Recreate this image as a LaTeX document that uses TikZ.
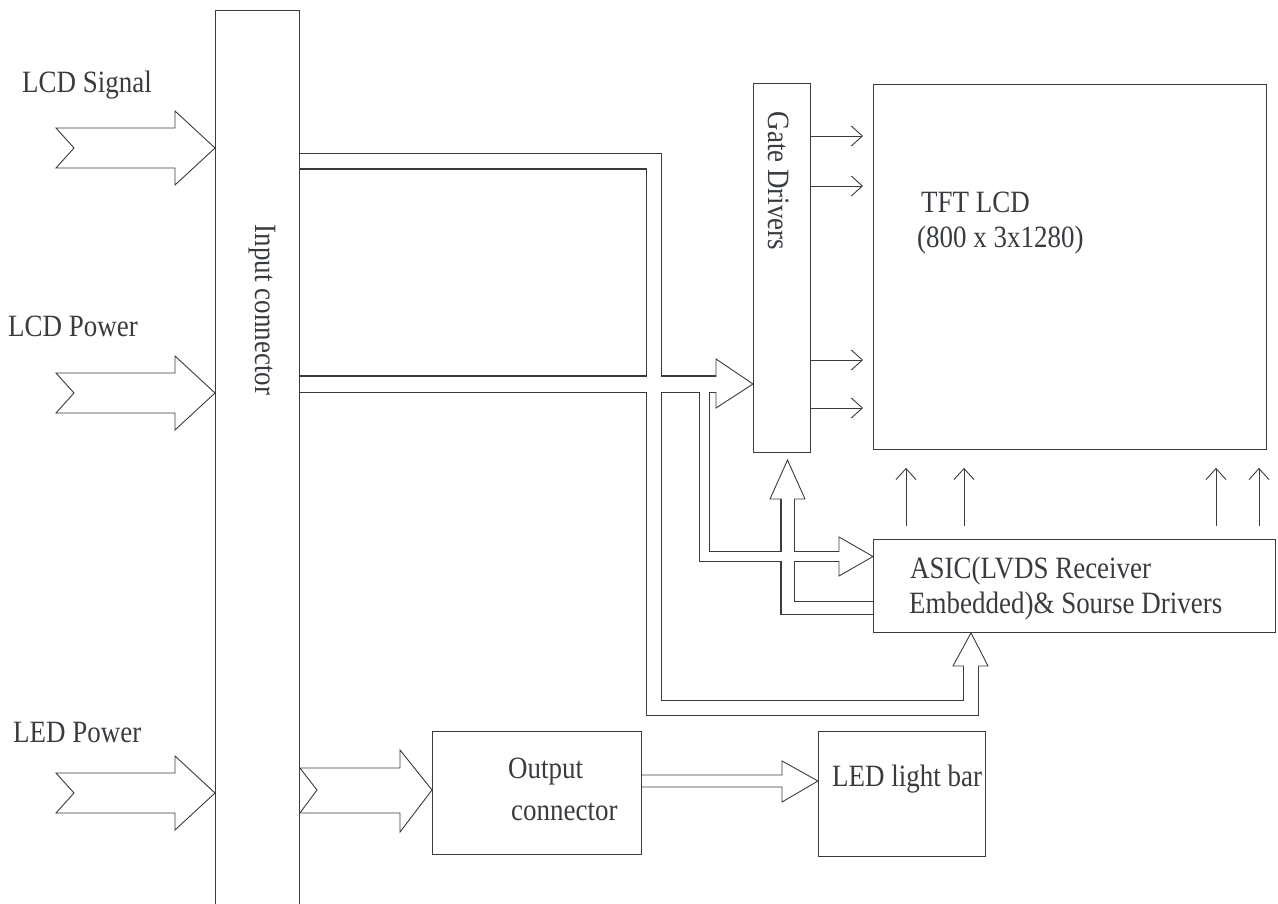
\documentclass[tikz,border=0pt]{standalone}
\usepackage{fontspec}
\setmainfont[FakeStretch=0.87]{Liberation Serif}
\usetikzlibrary{arrows.meta}
\definecolor{dline}{HTML}{383C40}
\pgfdeclarelayer{background}
\pgfsetlayers{background,main}

\begin{document}
\begin{tikzpicture}[x=1pt,y=-1pt,
  box/.style={draw=dline,line width=0.9pt,anchor=north west,inner sep=0pt},
  lbl/.style={text=dline,inner sep=0pt,font=\fontsize{31}{35}\selectfont},
  thinarr/.style={draw=dline,line width=0.9pt,-{Straight Barb[length=11pt,width=20pt]}},
  pipeout/.style={draw=dline,line width=#1+2.6pt},
  pipein/.style={draw=white,line width=#1},
  hollow/.style={draw=dline,fill=white,line width=0.9pt},
  hollowline/.style={draw=dline,line width=0.9pt}]
  \useasboundingbox (0,0) rectangle (1278,904);

  % blocks
  \node[box,minimum width=84pt,minimum height=910pt] (inconn) at (215,10) {};
  \node[box,minimum width=57pt,minimum height=369pt] (gate) at (753,83) {};
  \node[box,minimum width=393pt,minimum height=365pt] (tft) at (873,84) {};
  \node[box,minimum width=402pt,minimum height=93pt] (asic) at (873,539) {};
  \node[box,minimum width=209pt,minimum height=123pt] (outconn) at (432,731) {};
  \node[box,minimum width=167pt,minimum height=125pt] (ledbar) at (818,731) {};

  % texts
  \node[lbl,anchor=base west] (lcdsig) at (22,93) {LCD Signal};
  \node[lbl,anchor=base west] (lcdpow) at (8,337) {LCD Power};
  \node[lbl,anchor=base west] (ledpow) at (13,742) {LED Power};
  \node[lbl,rotate=-90] (inconntxt) at (262,310) {Input connector};
  \node[lbl,rotate=-90] (gatetxt) at (779,181) {Gate Drivers};
  \node[lbl,anchor=base west] (tfttxta) at (921,213) {TFT LCD};
  \node[lbl,anchor=base west] (tfttxtb) at (917,248) {(800 x 3x1280)};
  \node[lbl,anchor=base west] (asictxta) at (910,578) {ASIC(LVDS Receiver};
  \node[lbl,anchor=base west] (asictxtb) at (909,613) {Embedded)\& Sourse Drivers};
  \node[lbl,anchor=base west] (outtxta) at (508,778) {Output};
  \node[lbl,anchor=base west] (outtxtb) at (511,820) {connector};
  \node[lbl,anchor=base west] (ledtxt) at (832,786) {LED light bar};

  % inputs
  \foreach \cy in {148,393,793}
    \draw[hollow] (56,\cy-20) -- (175,\cy-20) -- (175,\cy-37) -- (inconn.west |- 0,\cy)
      -- (175,\cy+37) -- (175,\cy+20) -- (56,\cy+20) -- (74,\cy) -- cycle;
  \draw[hollow] (inconn.east |- 0,768) -- (400,768) -- (400,750) -- (outconn.west |- 0,790)
    -- (400,832) -- (400,813) -- (inconn.east |- 0,813) -- (317,790) -- cycle;
  \draw[hollowline] (outconn.east |- 0,775) -- (782,775) -- (782,761) -- (ledbar.west |- 0,781)
    -- (782,802) -- (782,787) -- (outconn.east |- 0,787);

  % gate and source lines
  \foreach \y in {136,186,360,408}
    \draw[thinarr,shorten >=10pt] (gate.east |- 0,\y) -- (tft.west |- 0,\y);
  \foreach \x in {906,964,1216,1259}
    \draw[thinarr,shorten <=13pt,shorten >=18pt] (\x,0 |- asic.north) -- (\x,0 |- tft.south);

  % buses
  \begin{pgfonlayer}{background}
    \path[save path=\busA] (inconn.east |- 0,161.5) -- (654,161.5) -- (654,708) -- (971,708) -- (971,664);
    \path[save path=\busB] (inconn.east |- 0,384) -- (718,384);
    \path[save path=\busC] (704.5,384) -- (704.5,556.5) -- (841,556.5);
    \path[save path=\busD] (787.5,497) -- (787.5,608) -- (asic.west |- 0,608);
    \draw[pipeout=14pt,use path=\busA];
    \draw[pipeout=15pt,use path=\busB];
    \draw[pipeout=9pt,use path=\busC];
    \draw[pipeout=12pt,use path=\busD];
    \draw[hollow] (953,666) -- (971,0 |- asic.south) -- (988,666) -- cycle;
    \draw[hollow] (716,359) -- (gate.west |- 0,384) -- (716,408) -- cycle;
    \draw[hollow] (839,537) -- (asic.west |- 0,556.5) -- (839,576) -- cycle;
    \draw[hollow] (770,499) -- (787.5,460) -- (805,499) -- cycle;
    \draw[pipein=14pt,use path=\busA];
    \draw[pipein=15pt,use path=\busB];
    \draw[pipein=9pt,use path=\busC];
    \draw[pipein=12pt,use path=\busD];
  \end{pgfonlayer}
\end{tikzpicture}
\end{document}
